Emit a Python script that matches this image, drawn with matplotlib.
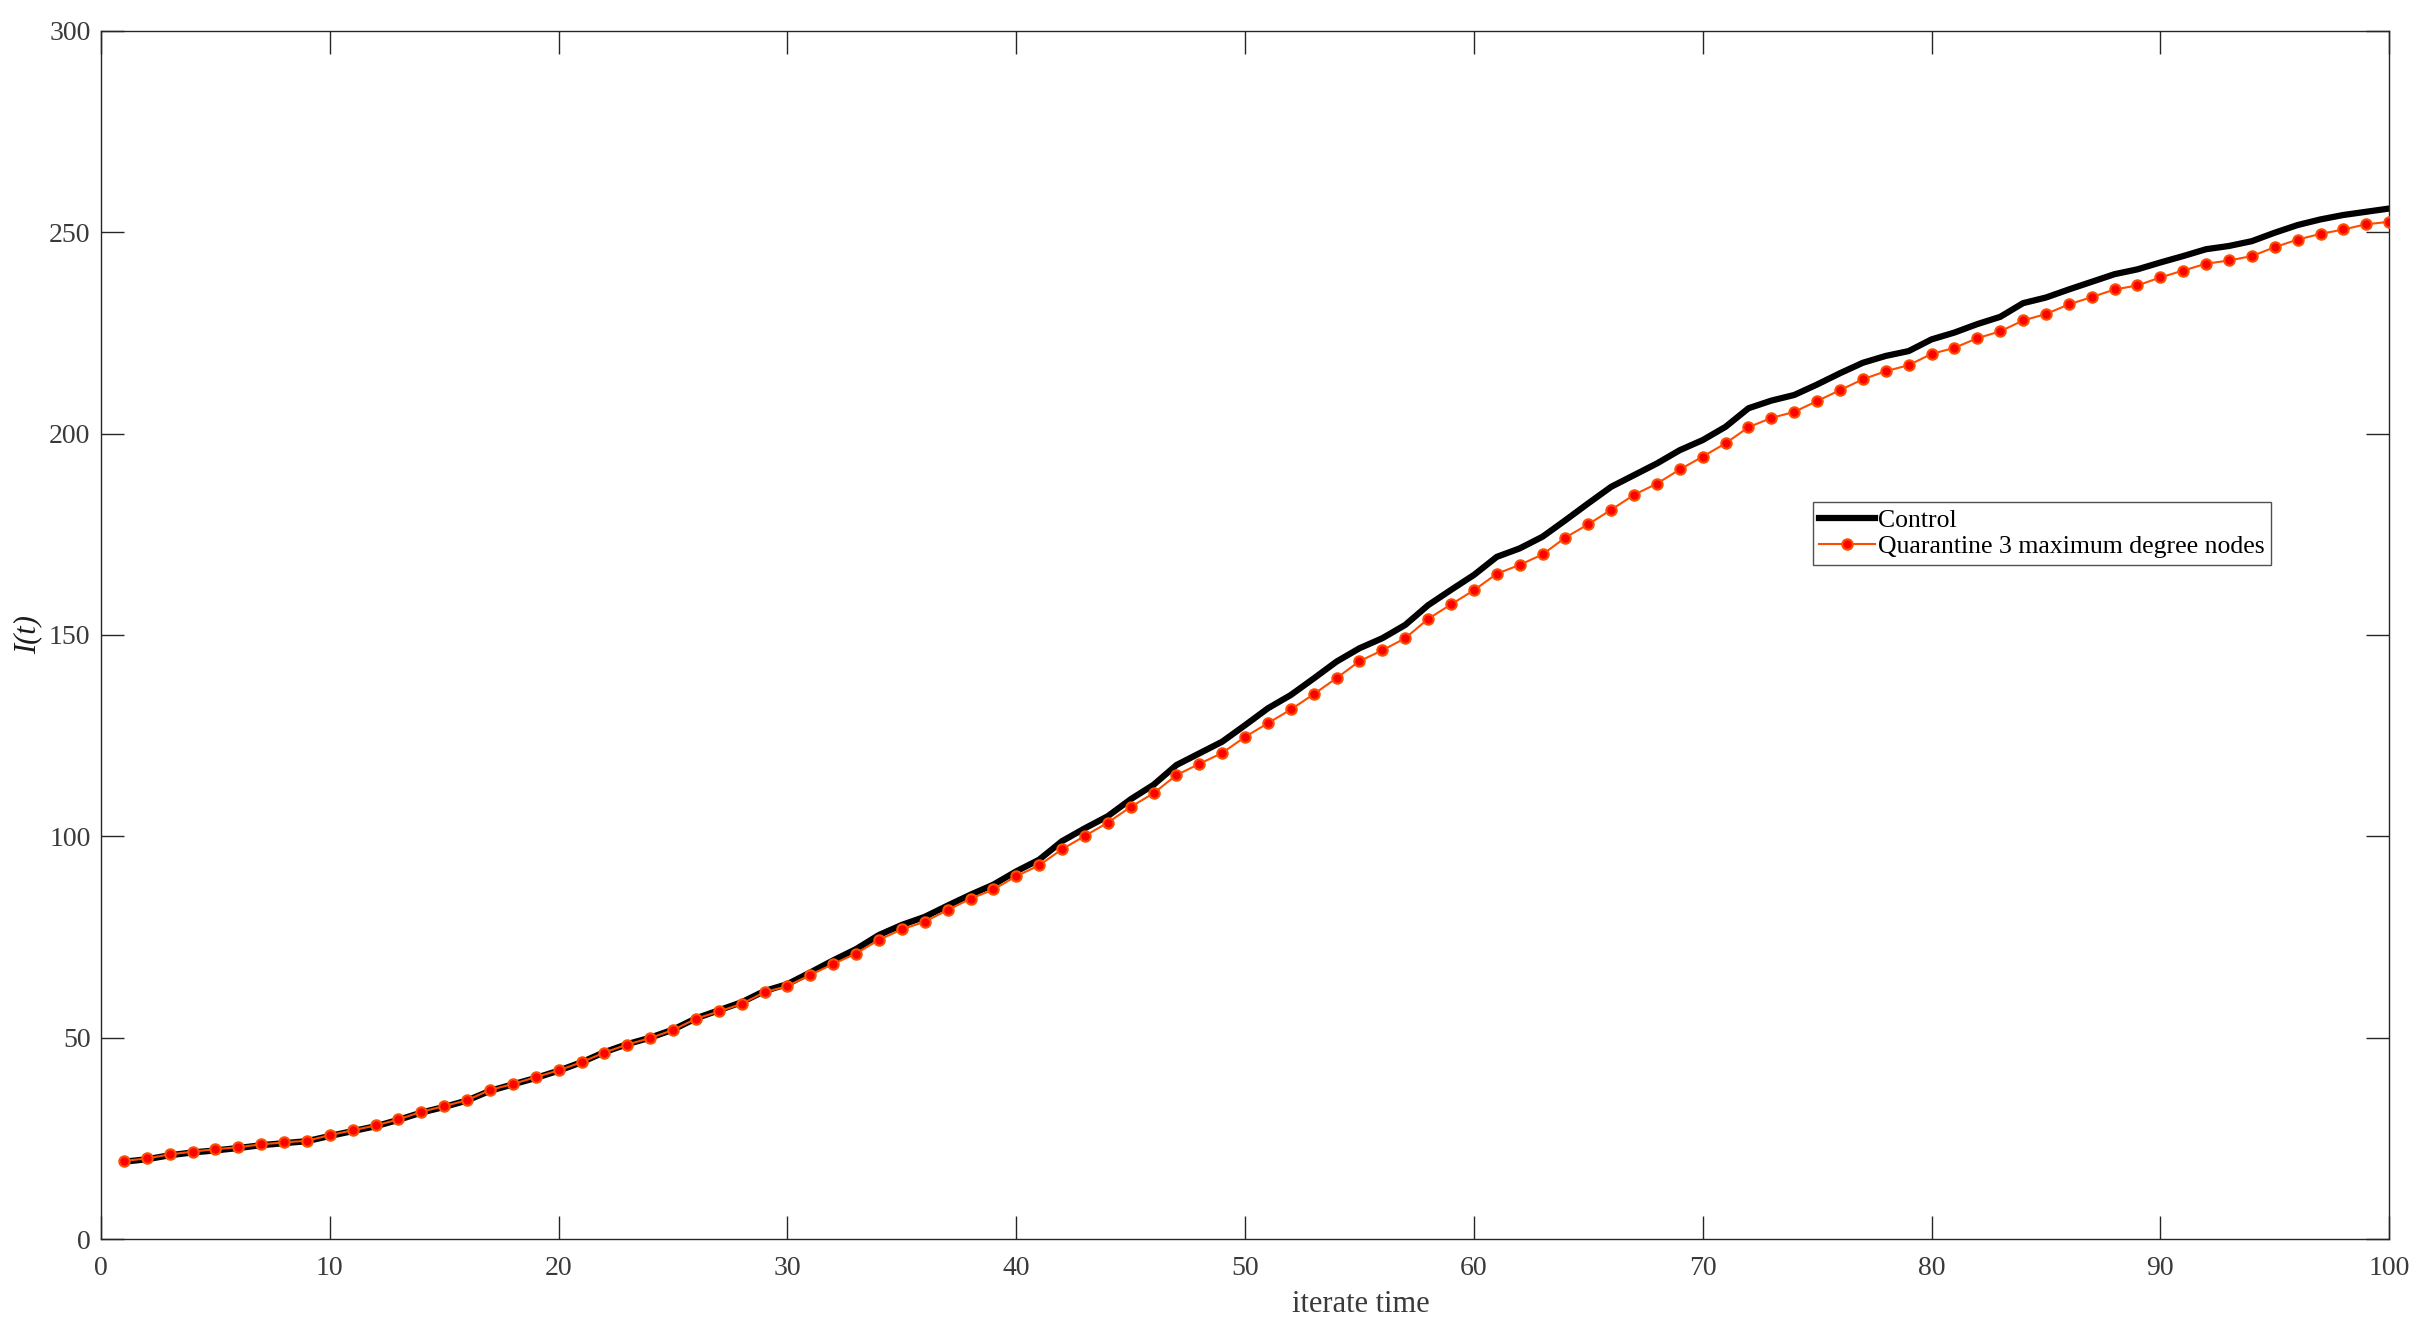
import matplotlib
matplotlib.use("Agg")
import matplotlib.pyplot as plt
import numpy as np

iterate_time = list(range(1, 101))

control = [
    19.2, 19.8, 20.8, 21.5, 22.0, 22.6, 23.3, 23.8, 24.3, 25.6,
    26.8, 28.0, 29.6, 31.4, 32.8, 34.4, 36.8, 38.4, 40.0, 41.8,
    43.9, 46.4, 48.4, 50.0, 52.0, 54.8, 56.8, 58.8, 61.6, 63.3,
    66.2, 69.2, 72.0, 75.5, 78.0, 80.0, 82.8, 85.5, 88.0, 91.3,
    94.2, 98.8, 102.0, 105.0, 109.2, 112.8, 117.7, 120.6, 123.5, 127.6,
    131.8, 135.1, 139.2, 143.4, 146.7, 149.2, 152.5, 157.4, 161.2, 164.9,
    169.4, 171.5, 174.4, 178.5, 182.7, 186.8, 189.7, 192.6, 195.9, 198.4,
    201.7, 206.3, 208.2, 209.6, 212.2, 215.0, 217.6, 219.3, 220.5, 223.4,
    225.1, 227.2, 229.0, 232.4, 233.8, 235.8, 237.7, 239.6, 240.8, 242.5,
    244.1, 245.8, 246.6, 247.8, 249.9, 251.8, 253.2, 254.3, 255.1, 255.9,
]

quarantine = [
    19.4, 20.0, 21.0, 21.7, 22.3, 22.8, 23.5, 24.0, 24.4, 25.8,
    27.0, 28.2, 29.7, 31.6, 33.0, 34.5, 37.0, 38.5, 40.2, 41.9,
    43.9, 46.3, 48.3, 49.9, 51.9, 54.7, 56.5, 58.4, 61.3, 62.8,
    65.6, 68.3, 70.9, 74.3, 76.9, 78.8, 81.7, 84.5, 86.8, 90.1,
    92.8, 96.8, 100.1, 103.4, 107.3, 110.7, 115.2, 118.0, 120.7, 124.7,
    128.1, 131.5, 135.3, 139.3, 143.5, 146.2, 149.2, 154.0, 157.6, 161.1,
    165.2, 167.4, 170.0, 174.2, 177.5, 181.1, 184.8, 187.6, 191.1, 194.3,
    197.6, 201.6, 203.9, 205.4, 208.1, 210.8, 213.5, 215.5, 217.0, 219.8,
    221.3, 223.7, 225.4, 228.1, 229.7, 232.1, 233.9, 235.8, 236.8, 238.8,
    240.5, 242.2, 243.0, 244.1, 246.3, 248.2, 249.6, 250.7, 252.0, 252.6,
]

x_ticks = [0, 10, 20, 30, 40, 50, 60, 70, 80, 90, 100]
y_ticks = [0, 50, 100, 150, 200, 250, 300]

plt.rcParams['font.family'] = ['Liberation Serif', 'DejaVu Serif']
axcol = '#262626'
txtcol = '#3a3a3a'

W, H = 2428, 1334
fig = plt.figure(figsize=(W / 100, H / 100), dpi=100)
ax = fig.add_axes([0.0416, 0.0712, 0.9424, 0.9056])

ax.plot(iterate_time, control, color='black', linewidth=4.5, label='Control', zorder=2)
ax.plot(iterate_time, quarantine, color='#FF4D00', linewidth=1.5, marker='o',
        markersize=7.5, markerfacecolor='#FF0000', markeredgecolor='#FF5000',
        markeredgewidth=1.5, label='Quarantine 3 maximum degree nodes', zorder=3)

ax.set_xlim(0, 100)
ax.set_ylim(0, 300)
ax.set_xticks(x_ticks)
ax.set_yticks(y_ticks)
ax.tick_params(direction='in', length=16.5, width=1.0, color=axcol,
               labelcolor=txtcol, labelsize=20, top=True, right=True)
ax.tick_params(axis='x', pad=12)
ax.tick_params(axis='y', pad=7.5)
for s in ax.spines.values():
    s.set_color(axcol)
    s.set_linewidth(1.0)

fig.text(1361 / W, 1 - 1312 / H, 'iterate time', fontsize=22, color=txtcol,
         ha='center', va='baseline')
fig.text(28 / W, 1 - 635 / H, 'I(t)', fontsize=22, color='#1a1a1a', style='italic',
         rotation=90, ha='center', va='center')

leg = ax.legend(loc='upper left', bbox_to_anchor=(0.748, 0.610), borderaxespad=0,
                fontsize=18.5, frameon=True, fancybox=False, handlelength=2.2,
                handletextpad=0.1, labelspacing=0.15, borderpad=0.25)
leg.get_frame().set_edgecolor(axcol)
leg.get_frame().set_linewidth(1.0)
for t in leg.get_texts():
    t.set_color('black')

fig.savefig('out.png', dpi=100, facecolor='white')
